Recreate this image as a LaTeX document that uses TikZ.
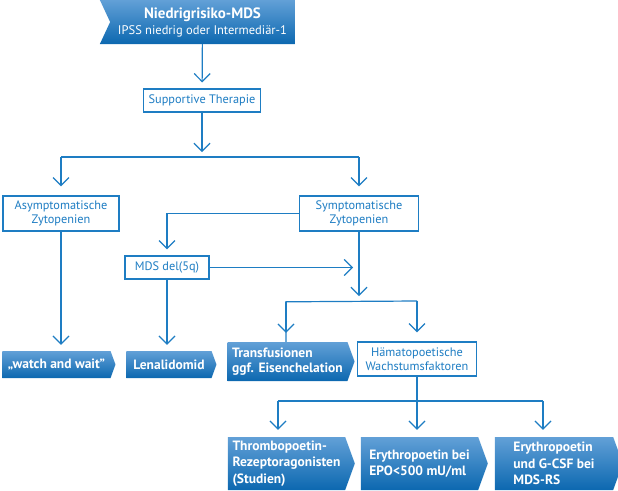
\documentclass[tikz,border=0pt]{standalone}
\usepackage{fontspec}
\setmainfont{PT Sans}
\usetikzlibrary{shapes.symbols,arrows.meta}
\definecolor{mdsline}{RGB}{30,125,195}
\definecolor{mdstop}{RGB}{98,160,215}
\definecolor{mdsbot}{RGB}{12,104,176}
\begin{document}
\begin{tikzpicture}[x=1pt,y=-1pt,
		every node/.style={inner sep=0pt},
		box/.style={draw=mdsline, line width=1.2pt, text=mdsline, fill=white, align=center, font=\fontsize{12.3}{14}\selectfont},
		chev/.style={shape=signal, signal to=east, signal pointer angle=140, top color=mdstop, bottom color=mdsbot, text=white, align=left, font=\bfseries\fontsize{13.5}{16.5}\selectfont},
		conn/.style={mdsline, line width=1.2pt},
		arr/.style={conn, -{Straight Barb[length=8pt,width=16pt]}, shorten >=6pt}]
	\useasboundingbox (0,0) rectangle (618,490);
	% title banner
	\node[shape=signal, signal from=west, signal to=nowhere, signal pointer angle=130, top color=mdstop, bottom color=mdsbot, text=white, align=center, minimum width=195pt, minimum height=44pt, font=\fontsize{12.5}{16}\selectfont] (title) at (202.5,22)
		{{\bfseries\fontsize{15}{16}\selectfont Niedrigrisiko-MDS}\\IPSS niedrig oder Intermediär-1};
	% boxes
	\node[box, minimum width=117pt, minimum height=23pt] (supp) at (202,100.5) {Supportive Therapie};
	\node[box, minimum width=116pt, minimum height=35pt] (asym) at (61,213.5) {Asymptomatische\\Zytopenien};
	\node[box, minimum width=119pt, minimum height=35pt] (sympt) at (359,213.5) {Symptomatische\\Zytopenien};
	\node[box, minimum width=84pt, minimum height=23pt] (del) at (167,267.5) {MDS del(5q)};
	\node[box, minimum width=119pt, minimum height=34pt] (hws) at (417,359) {Hämatopoetische\\Wachstumsfaktoren};
	% therapy arrows
	\node[chev, minimum width=113pt, minimum height=27pt] (watch) at (56.5,364.5) {„watch and wait”};
	\node[chev, minimum width=90pt, minimum height=27pt] (lena) at (169,364.5) {Lenalidomid};
	\node[chev, minimum width=127pt, minimum height=39pt, font=\bfseries\fontsize{13.5}{15.5}\selectfont] (transf) at (287.5,361.5) {Transfusionen\\ggf. Eisenchelation};
	\node[chev, minimum width=127pt, minimum height=53pt] (tpo) at (286.5,463.5) {Thrombopoetin-\\Rezeptoragonisten\\(Studien)};
	\node[chev, minimum width=127pt, minimum height=53pt] (epo) at (419.5,463.5) {Erythropoetin bei\\EPO<500 mU/ml};
	\node[chev, minimum width=128pt, minimum height=53pt] (gcsf) at (554,463.5) {Erythropoetin\\und G-CSF bei\\MDS-RS};
	% connectors
	\coordinate (s1) at (202,157);
	\coordinate (s2) at (359,301);
	\coordinate (s3) at (417,401);
	\draw[arr] (title) -- (supp);
	\draw[arr, shorten >=5pt] (supp) -- (s1);
	\draw[conn] (asym |- s1) -- (sympt |- s1);
	\draw[arr, shorten >=9pt] (asym |- s1) -- (asym);
	\draw[arr, shorten >=9pt] (sympt |- s1) -- (sympt);
	\draw[arr] (sympt.west) -| (del);
	\draw[arr] (del) -- (sympt |- del);
	\draw[arr, shorten >=5pt] (sympt) -- (s2);
	\draw[conn] (transf.north -| 286,0) -- ++(0,-40) coordinate (s2a) -- (hws |- s2);
	\draw[arr, shorten >=9pt] (s2a) -- (s2a |- transf.north);
	\draw[arr, shorten >=9pt] (hws |- s2) -- (hws);
	\draw[arr] (asym) -- (asym |- watch.north);
	\draw[arr] (del) -- (del |- lena.north);
	\draw[conn] (278,401) coordinate (s3a) -- (543,401) coordinate (s3b);
	\draw[arr, shorten >=7pt] (hws) -- (s3 |- epo.north);
	\foreach \c in {s3a,s3b} \draw[arr, shorten >=7pt] (\c) -- (\c |- tpo.north);
\end{tikzpicture}
\end{document}
